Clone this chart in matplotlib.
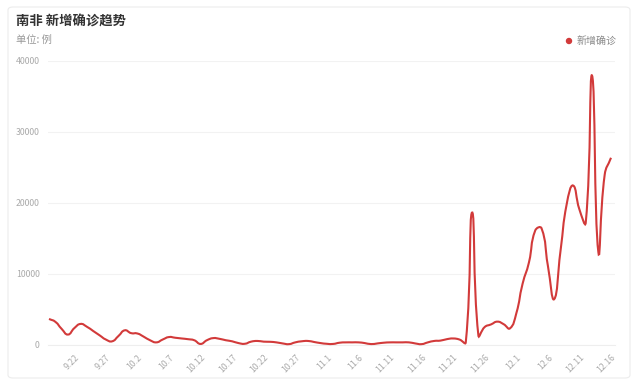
import numpy as np
import pandas as pd
import matplotlib
matplotlib.use('Agg')
import matplotlib.pyplot as plt
from matplotlib.path import Path
from matplotlib.patches import PathPatch, FancyBboxPatch, Ellipse

plt.rcParams['font.family'] = ['Noto Sans CJK SC', 'DejaVu Sans']

# ----- DATA -----
title = '南非 新增确诊趋势'
unit_label = '单位: 例'
series_name = '新增确诊'

# daily dates 9.18 ... 12.16
dates = pd.date_range('2021-09-18', '2021-12-16', freq='D')
date_labels = [f'{d.month}.{d.day}' for d in dates]

new_cases = [
    3600, 3200, 2200, 1400, 2300, 2900, 2500, 1900, 1300, 700,   # 9.18 - 9.27
    450, 1200, 2000, 1600, 1550, 1100, 600, 300, 700, 1050,      # 9.28 - 10.7
    950, 850, 750, 600, 80, 600, 900, 800, 600, 450,             # 10.8 - 10.17
    200, 100, 400, 500, 400, 380, 300, 150, 50, 300,             # 10.18 - 10.27
    450, 500, 350, 200, 100, 80, 250, 300, 300, 300,             # 10.28 - 11.6
    200, 60, 150, 250, 300, 300, 300, 300, 150, 50,              # 11.7 - 11.16
    300, 500, 550, 750, 850, 700, 300, 18586, 1275, 2465,        # 11.17 - 11.26
    2828, 3220, 2858, 2273, 4373, 8561, 11535, 16055, 16366, 11125,  # 11.27 - 12.6
    6381, 13147, 19842, 22391, 19018, 17154, 37875, 13000, 23900, 26300,  # 12.7 - 12.16
]

tick_labels = ['9.22', '9.27', '10.2', '10.7', '10.12', '10.17', '10.22', '10.27',
               '11.1', '11.6', '11.11', '11.16', '11.21', '11.26', '12.1', '12.6',
               '12.11', '12.16']
y_ticks = [0, 10000, 20000, 30000, 40000]

LINE_RED = '#d23a3a'


def smooth_path(xs, ys, sx, sy, smooth=0.5):
    # echarts-like smoothing: control points from neighbours, done in pixel space
    px = np.asarray(xs, float) * sx
    py = np.asarray(ys, float) * sy
    n = len(px)
    cps_in = []
    cps_out = []
    for i in range(n):
        prev_i = max(i - 1, 0)
        next_i = min(i + 1, n - 1)
        vx = (px[next_i] - px[prev_i]) * smooth
        vy = (py[next_i] - py[prev_i]) * smooth
        d0 = np.hypot(px[i] - px[prev_i], py[i] - py[prev_i])
        d1 = np.hypot(px[next_i] - px[i], py[next_i] - py[i])
        tot = d0 + d1 if d0 + d1 > 0 else 1
        cps_in.append((px[i] - vx * d0 / tot, py[i] - vy * d0 / tot))
        cps_out.append((px[i] + vx * d1 / tot, py[i] + vy * d1 / tot))
    verts = [(px[0], py[0])]
    codes = [Path.MOVETO]
    for i in range(n - 1):
        verts += [cps_out[i], cps_in[i + 1], (px[i + 1], py[i + 1])]
        codes += [Path.CURVE4] * 3
    verts = [(vx / sx, vy / sy) for vx, vy in verts]
    return Path(verts, codes)


fig = plt.figure(figsize=(6.39, 3.85), dpi=100)
fig.patch.set_facecolor('white')

# card border (behind everything)
card = FancyBboxPatch((8 / 639, 7 / 385), 622 / 639, 371 / 385,
                      boxstyle='round,pad=0,rounding_size=0.008',
                      transform=fig.transFigure, facecolor='white',
                      edgecolor='#ececec', linewidth=0.8, zorder=-10)
fig.add_artist(card)

fig.text(16 / 639, 1 - 22 / 385, title, fontsize=9.6, fontweight='bold',
         color='#333333', va='center', ha='left')
fig.text(16 / 639, 1 - 40 / 385, unit_label, fontsize=7.4, color='#999999',
         va='center', ha='left')

# legend
fig.add_artist(Ellipse((569 / 639, 1 - 41 / 385), 5 / 639, 5 / 385,
                       transform=fig.transFigure, color=LINE_RED))
fig.text(577 / 639, 1 - 41 / 385, series_name, fontsize=7.2, color='#888888',
         va='center', ha='left')

left, right = 48 / 639, 615 / 639
top, bottom = 1 - 60.5 / 385, 1 - 344.5 / 385
ax = fig.add_axes([left, bottom, right - left, top - bottom])
ax.patch.set_alpha(0)

x = np.arange(len(new_cases))
path = smooth_path(x, new_cases, 6.31, 71 / 10000)
ax.add_patch(PathPatch(path, facecolor='none', edgecolor=LINE_RED,
                       linewidth=1.5, clip_on=False, zorder=3))

ax.set_xlim(-0.16, len(new_cases) - 1 + 4 / 6.31)
ax.set_ylim(0, 40000)

ax.set_yticks(y_ticks)
ax.set_yticklabels([str(v) for v in y_ticks])
tick_pos = [date_labels.index(t) for t in tick_labels]
ax.set_xticks(tick_pos)
ax.set_xticklabels(tick_labels, rotation=45, ha='right', va='top',
                   rotation_mode='anchor')

ax.tick_params(axis='both', length=0, labelsize=6.3, labelcolor='#aaaaaa')
ax.tick_params(axis='x', pad=6)
ax.tick_params(axis='y', pad=6)
ax.grid(axis='y', color='#f2f2f2', linewidth=0.8)
ax.set_axisbelow(True)
for side in ['top', 'right', 'left']:
    ax.spines[side].set_visible(False)
ax.spines['bottom'].set_color('#eeeeee')
ax.spines['bottom'].set_linewidth(0.8)

fig.savefig('out.png', dpi=100)
